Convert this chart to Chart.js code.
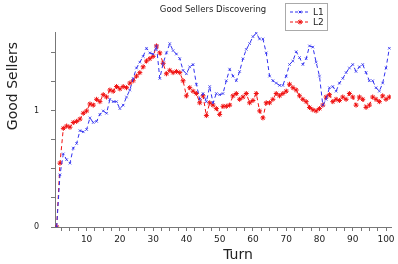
<!DOCTYPE html>
<html>
<head>
<meta charset="utf-8">
<script src="https://cdn.jsdelivr.net/npm/chart.js@4/dist/chart.umd.min.js"></script>
<style>
  html, body { margin: 0; padding: 0; background: #fff; }
  #wrap { width: 398px; height: 264px; }
</style>
</head>
<body>
<div id="wrap"><canvas id="good-sellers"></canvas></div>
<script>
// turns (x values)
const turns = [
  1, 2, 3, 4, 5, 6, 7, 8, 9, 10,
  11, 12, 13, 14, 15, 16, 17, 18, 19, 20,
  21, 22, 23, 24, 25, 26, 27, 28, 29, 30,
  31, 32, 33, 34, 35, 36, 37, 38, 39, 40,
  41, 42, 43, 44, 45, 46, 47, 48, 49, 50,
  51, 52, 53, 54, 55, 56, 57, 58, 59, 60,
  61, 62, 63, 64, 65, 66, 67, 68, 69, 70,
  71, 72, 73, 74, 75, 76, 77, 78, 79, 80,
  81, 82, 83, 84, 85, 86, 87, 88, 89, 90,
  91, 92, 93, 94, 95, 96, 97, 98, 99, 100, 101,
];

// L1 (blue)
const l1Values = [
  0, 0.45, 0.63, 0.58, 0.55, 0.68, 0.72, 0.83, 0.82, 0.84,
  0.94, 0.90, 0.91, 0.97, 1.00, 0.98, 1.10, 1.08, 1.08, 1.02,
  1.05, 1.12, 1.18, 1.28, 1.37, 1.42, 1.47, 1.54, 1.50, 1.49,
  1.56, 1.28, 1.41, 1.50, 1.58, 1.52, 1.49, 1.45, 1.35, 1.32,
  1.38, 1.40, 1.23, 1.10, 1.15, 1.08, 1.21, 1.07, 1.15, 1.14,
  1.15, 1.26, 1.36, 1.30, 1.26, 1.34, 1.45, 1.53, 1.58, 1.64,
  1.67, 1.62, 1.62, 1.50, 1.30, 1.26, 1.24, 1.22, 1.22, 1.30,
  1.40, 1.43, 1.51, 1.46, 1.40, 1.45, 1.56, 1.55, 1.42, 1.30,
  1.05, 1.10, 1.20, 1.21, 1.17, 1.24, 1.28, 1.33, 1.37, 1.40,
  1.34, 1.38, 1.40, 1.33, 1.26, 1.26, 1.20, 1.17, 1.24, 1.37, 1.54,
];

// L2 (red)
const l2Values = [
  0, 0.55, 0.85, 0.87, 0.86, 0.90, 0.91, 0.93, 0.98, 1.00,
  1.06, 1.05, 1.10, 1.08, 1.14, 1.12, 1.18, 1.17, 1.21, 1.19,
  1.21, 1.20, 1.24, 1.26, 1.30, 1.33, 1.38, 1.43, 1.45, 1.47,
  1.56, 1.50, 1.41, 1.32, 1.35, 1.33, 1.34, 1.33, 1.26, 1.13,
  1.20, 1.17, 1.15, 1.07, 1.13, 0.96, 1.07, 1.05, 1.02, 0.97,
  1.04, 1.04, 1.05, 1.13, 1.15, 1.10, 1.12, 1.15, 1.07, 1.09,
  1.15, 1.00, 0.94, 1.07, 1.07, 1.10, 1.15, 1.13, 1.15, 1.17,
  1.23, 1.20, 1.18, 1.13, 1.10, 1.08, 1.03, 1.01, 1.00, 1.02,
  1.05, 1.12, 1.14, 1.08, 1.10, 1.09, 1.12, 1.10, 1.15, 1.12,
  1.05, 1.12, 1.10, 1.03, 1.05, 1.12, 1.10, 1.08, 1.13, 1.10, 1.12,
];

// tick marks and the ones that get a label
const xTickValues = [
  2.5, 5, 7.5, 10, 12.5, 15, 17.5, 20, 22.5, 25, 27.5, 30, 32.5, 35, 37.5, 40,
  42.5, 45, 47.5, 50, 52.5, 55, 57.5, 60, 62.5, 65, 67.5, 70, 72.5, 75, 77.5, 80,
  82.5, 85, 87.5, 90, 92.5, 95, 97.5, 100,
];
const xTickLabels = [10, 20, 30, 40, 50, 60, 70, 80, 90, 100];
const yTickValues = [0, 0.25, 0.5, 0.75, 1, 1.25, 1.5];
const yTickLabels = [0, 1];

const chartTitle = "Good Sellers Discovering";
const xTitle = "Turn";
const yTitle = "Good Sellers";

const toPoints = (vals) => vals.map((v, i) => ({ x: turns[i], y: v }));

// titles and legend box drawn at fixed spots
const decorations = {
  id: "decorations",
  afterDraw(chart) {
    const ctx = chart.ctx;
    ctx.save();
    ctx.fillStyle = "#222";
    ctx.textAlign = "center";
    ctx.textBaseline = "middle";
    ctx.font = "8.5px 'DejaVu Sans'";
    ctx.fillText(chartTitle, 213, 10);

    ctx.font = "14px 'DejaVu Sans'";
    ctx.fillText(xTitle, 238, 255);

    ctx.save();
    ctx.translate(13, 86);
    ctx.rotate(-Math.PI / 2);
    ctx.fillText(yTitle, 0, 0);
    ctx.restore();

    // legend
    ctx.fillStyle = "#fff";
    ctx.fillRect(285.5, 3.5, 42, 27);
    ctx.strokeStyle = "#aaa";
    ctx.lineWidth = 1;
    ctx.strokeRect(285.5, 3.5, 42, 27);
    const rows = [12, 22];
    chart.data.datasets.forEach((ds, i) => {
      const y = rows[i];
      ctx.strokeStyle = ds.borderColor;
      ctx.setLineDash([3, 2]);
      ctx.beginPath();
      ctx.moveTo(290, y);
      ctx.lineTo(310, y);
      ctx.stroke();
      ctx.setLineDash([]);
      Chart.helpers.drawPoint(ctx, {
        pointStyle: ds.pointStyle,
        radius: ds.pointRadius,
        borderWidth: 1,
        rotation: 0,
      }, 300, y);
      ctx.fillStyle = "#222";
      ctx.textAlign = "left";
      ctx.font = "9px 'DejaVu Sans'";
      ctx.fillText(ds.label, 313, y + 0.5);
    });
    ctx.restore();
  },
};

const ctxGood = document.querySelector("#good-sellers").getContext("2d");

const goodChart = new Chart(ctxGood, {
  type: "line",
  data: {
    datasets: [
      {
        label: "L1",
        data: toPoints(l1Values),
        borderColor: "#3030f0",
        backgroundColor: "#3030f0",
        borderWidth: 1,
        borderDash: [4, 3],
        pointStyle: "crossRot",
        pointRadius: 1.8,
        pointBorderWidth: 0.8,
        tension: 0,
      },
      {
        label: "L2",
        data: toPoints(l2Values),
        borderColor: "#f01010",
        backgroundColor: "#f01010",
        borderWidth: 1,
        borderDash: [4, 3],
        pointStyle: "star",
        pointRadius: 2.5,
        pointBorderWidth: 1,
        tension: 0,
      },
    ],
  },
  options: {
    responsive: true,
    maintainAspectRatio: false,
    animation: false,
    layout: { padding: { top: 32, right: 7, left: 0, bottom: 0 } },
    plugins: {
      legend: { display: false },
      title: { display: false },
      tooltip: { enabled: false },
    },
    scales: {
      x: {
        type: "linear",
        min: 0.5,
        max: 101.5,
        afterFit(axis) { axis.height = 37; },
        afterBuildTicks(axis) {
          axis.ticks = xTickValues.map((v) => ({ value: v }));
        },
        ticks: {
          autoSkip: false,
          maxRotation: 0,
          padding: 3,
          color: "#222",
          font: { family: "DejaVu Sans", size: 9 },
          callback: (v) => (xTickLabels.includes(v) ? String(v) : ""),
        },
        grid: {
          drawOnChartArea: false,
          drawTicks: true,
          tickLength: 4,
          color: "#777",
        },
        border: { display: true, color: "#777" },
      },
      y: {
        min: 0,
        max: 1.68,
        afterFit(axis) { axis.width = 55; },
        afterBuildTicks(axis) {
          axis.ticks = yTickValues.map((v) => ({ value: v }));
        },
        ticks: {
          autoSkip: false,
          padding: 12,
          color: "#222",
          font: { family: "DejaVu Sans", size: 8 },
          callback: (v) => (yTickLabels.includes(v) ? String(v) : ""),
        },
        grid: {
          drawOnChartArea: false,
          drawTicks: true,
          tickLength: 4,
          color: "#777",
        },
        border: { display: true, color: "#777" },
      },
    },
  },
  plugins: [decorations],
});
</script>
</body>
</html>
